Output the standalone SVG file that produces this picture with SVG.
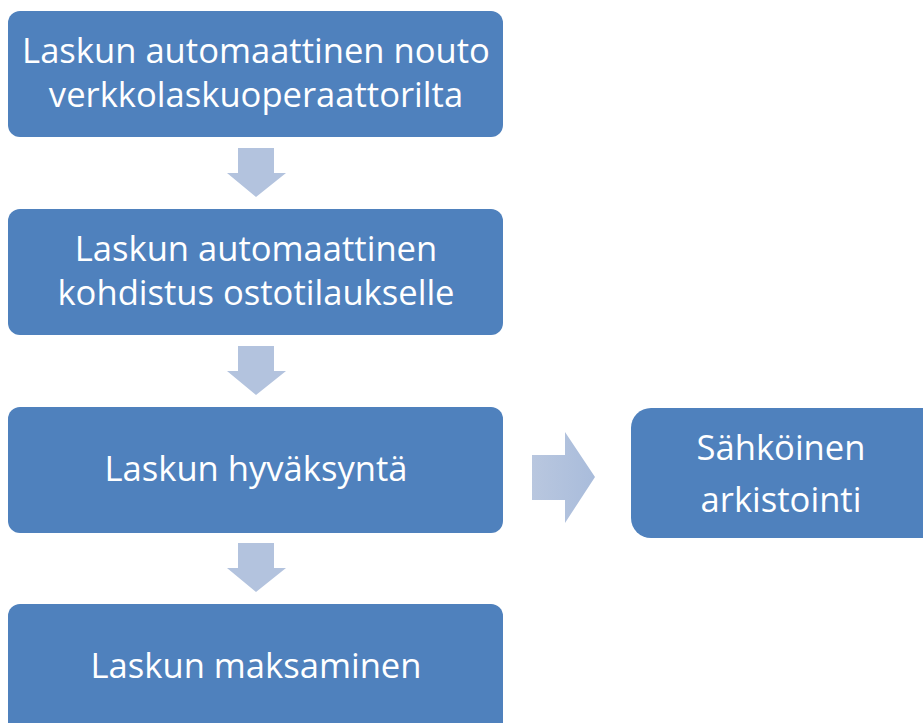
<svg xmlns="http://www.w3.org/2000/svg" width="923" height="723" viewBox="0 0 923 723">
  <defs>
    <linearGradient id="sideArrowFill" x1="0" y1="0" x2="1" y2="0">
      <stop offset="0" stop-color="#b9c7df"/>
      <stop offset="1" stop-color="#a9bcdb"/>
    </linearGradient>
  </defs>
  <style>
    .box { fill: #4f81bd; }
    .label { fill: #ffffff; font-family: "Open Sans", "Noto Sans", sans-serif; font-size: 34.6px; text-anchor: middle; }
    .down { fill: #b3c3de; }
  </style>
  <rect width="923" height="723" fill="#ffffff"/>

  <!-- connectors -->
  <g id="connectors">
    <polygon class="down" points="238,148 274,148 274,173 286,173 256,197 227,173 238,173"/>
    <polygon class="down" points="238,346 274,346 274,371 286,371 256,395 227,371 238,371"/>
    <polygon class="down" points="238,543 274,543 274,568 286,568 256,592 227,568 238,568"/>
    <polygon fill="url(#sideArrowFill)" points="532,455 565,455 565,432 595,477 565,523 565,500 532,500"/>
  </g>

  <g id="node-nouto">
    <rect class="box" x="8" y="11" width="495" height="126" rx="12"/>
    <text class="label" x="256" y="63">Laskun automaattinen nouto</text>
    <text class="label" x="256" y="107">verkkolaskuoperaattorilta</text>
  </g>

  <g id="node-kohdistus">
    <rect class="box" x="8" y="209" width="495" height="126" rx="12"/>
    <text class="label" x="256" y="261">Laskun automaattinen</text>
    <text class="label" x="256" y="305">kohdistus ostotilaukselle</text>
  </g>

  <g id="node-hyvaksynta">
    <rect class="box" x="8" y="407" width="495" height="126" rx="12"/>
    <text class="label" x="256" y="481">Laskun hyväksyntä</text>
  </g>

  <g id="node-maksaminen">
    <rect class="box" x="8" y="604" width="495" height="140" rx="12"/>
    <text class="label" x="256" y="678">Laskun maksaminen</text>
  </g>

  <g id="node-arkistointi">
    <rect class="box" x="631" y="408" width="310" height="130" rx="20"/>
    <text class="label" x="781" y="460">Sähköinen</text>
    <text class="label" x="781" y="512">arkistointi</text>
  </g>
</svg>
